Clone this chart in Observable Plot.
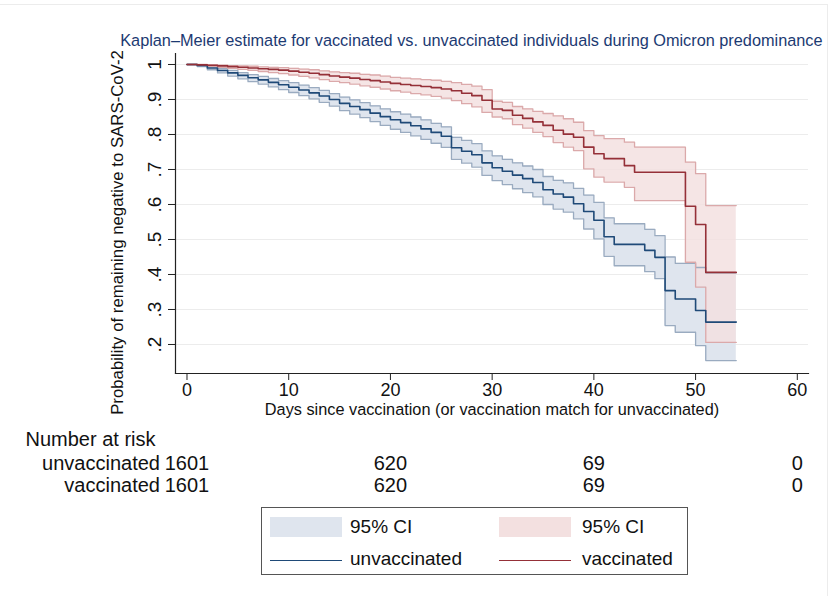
<!DOCTYPE html>
<html>
<head>
<meta charset="utf-8">
<script src="https://cdn.jsdelivr.net/npm/d3@7"></script>
<script src="https://cdn.jsdelivr.net/npm/@observablehq/plot@0.6"></script>
<style>
  html, body { margin: 0; padding: 0; background: #fff; }
  #wrap { position: relative; width: 833px; height: 596px; overflow: hidden; font-family: "Liberation Sans", Arial, sans-serif; }
  #wrap svg { position: absolute; left: 0; top: 0; }
  #edge { position: absolute; left: 0; top: 4px; width: 828px; height: 600px; border-top: 1px solid #ececec; border-right: 1px solid #ececec; box-sizing: border-box; }
  #legend { position: absolute; left: 261px; top: 507px; width: 427px; height: 68px; border: 1px solid #555; box-sizing: border-box; background: #fff; }
  .sw { position: absolute; width: 72px; height: 20px; }
  .ln { position: absolute; width: 72px; height: 0; border-top: 1.5px solid; }
  .lt { position: absolute; font-size: 19px; color: #111; line-height: 22px; white-space: nowrap; }
</style>
</head>
<body>
<div id="wrap"><div id="edge"></div></div>
<script>
// ---- data ----
const days = [0,1,2,3,4,5,6,7,8,9,10,11,12,13,14,15,16,17,18,19,20,21,22,23,24,25,26,27,28,29,30,31,32,33,34,35,36,37,38,39,40,41,42,43,44,45,46,47,48,49,50,51,52,53,54];

const unvacKM = [1.000,0.997,0.990,0.983,0.976,0.969,0.962,0.956,0.949,0.942,0.935,0.927,0.919,0.910,0.900,0.889,0.880,0.871,0.861,0.851,0.842,0.834,0.825,0.816,0.806,0.795,0.762,0.752,0.742,0.719,0.705,0.695,0.684,0.674,0.663,0.642,0.630,0.621,0.602,0.580,0.555,0.508,0.486,0.486,0.486,0.469,0.449,0.354,0.330,0.330,0.297,0.264,0.264,0.264,0.264];
const unvacLo = [1.000,0.994,0.985,0.976,0.967,0.959,0.951,0.944,0.936,0.928,0.920,0.911,0.902,0.892,0.881,0.868,0.858,0.848,0.837,0.826,0.815,0.806,0.796,0.786,0.775,0.763,0.729,0.718,0.707,0.683,0.668,0.657,0.645,0.634,0.622,0.600,0.587,0.578,0.559,0.530,0.502,0.452,0.425,0.425,0.425,0.408,0.388,0.254,0.235,0.235,0.197,0.154,0.154,0.154,0.154];
const unvacHi = [1.000,0.999,0.994,0.988,0.983,0.977,0.971,0.966,0.960,0.954,0.948,0.941,0.934,0.926,0.917,0.907,0.899,0.891,0.882,0.873,0.865,0.858,0.850,0.842,0.832,0.822,0.792,0.783,0.774,0.753,0.739,0.729,0.719,0.710,0.700,0.680,0.669,0.662,0.646,0.627,0.606,0.562,0.545,0.545,0.545,0.529,0.511,0.450,0.432,0.432,0.420,0.405,0.405,0.405,0.405];

const vacKM = [1.000,0.999,0.998,0.996,0.994,0.992,0.990,0.988,0.986,0.984,0.981,0.978,0.975,0.971,0.967,0.964,0.961,0.957,0.954,0.950,0.946,0.943,0.940,0.937,0.934,0.930,0.925,0.918,0.911,0.898,0.873,0.869,0.855,0.846,0.836,0.826,0.812,0.801,0.792,0.764,0.745,0.731,0.731,0.711,0.692,0.692,0.692,0.692,0.692,0.595,0.543,0.406,0.406,0.406,0.406];
const vacLo = [1.000,0.998,0.995,0.992,0.989,0.986,0.983,0.980,0.977,0.974,0.970,0.966,0.962,0.957,0.952,0.948,0.944,0.939,0.935,0.930,0.925,0.921,0.917,0.913,0.909,0.904,0.897,0.888,0.879,0.863,0.850,0.845,0.828,0.818,0.806,0.794,0.777,0.764,0.754,0.702,0.678,0.664,0.664,0.649,0.611,0.611,0.611,0.611,0.611,0.435,0.364,0.206,0.206,0.206,0.206];
const vacHi = [1.000,1.000,0.999,0.998,0.997,0.996,0.995,0.993,0.992,0.991,0.989,0.987,0.985,0.982,0.979,0.977,0.975,0.972,0.970,0.967,0.963,0.961,0.959,0.957,0.955,0.952,0.948,0.943,0.938,0.928,0.895,0.892,0.880,0.873,0.866,0.860,0.853,0.845,0.835,0.811,0.797,0.788,0.788,0.778,0.764,0.764,0.764,0.764,0.764,0.721,0.688,0.597,0.597,0.597,0.597];

const yTicks = [1,0.9,0.8,0.7,0.6,0.5,0.4,0.3,0.2];
const yTickLabels = ["1",".9",".8",".7",".6",".5",".4",".3",".2"];
const xTicks = [0,10,20,30,40,50,60];

const riskDays = [0,20,40,60];
const riskUnvac = [1601,620,69,0];
const riskVac = [1601,620,69,0];
const groups = ["unvaccinated","vaccinated"];

const titleText = "Kaplan\u2013Meier estimate for vaccinated vs. unvaccinated individuals during Omicron predominance";
const yTitle = "Probability of remaining negative to SARS-CoV-2";
const xTitle = "Days since vaccination (or vaccination match for unvaccinated)";
const riskTitle = "Number at risk";
const ciLabel = "95% CI";

// ---- styles ----
const C = {
  unvac: "#1f4a78", unvacFill: "#dfe5ee", unvacEdge: "#9aabc0",
  vac: "#953038", vacFill: "#f3e0e0", vacEdge: "#dba9aa",
  grid: "#ececec", ink: "#111"
};

const unvac = days.map((d,i)=>({d, km: unvacKM[i], lo: unvacLo[i], hi: unvacHi[i]}));
const vac = days.map((d,i)=>({d, km: vacKM[i], lo: vacLo[i], hi: vacHi[i]}));
const yt = yTicks.map((v,i)=>({v, label: yTickLabels[i]}));
const risk = riskDays.map((d,i)=>({d, u: String(riskUnvac[i]), v: String(riskVac[i])}));

const F = "Liberation Sans, Arial, sans-serif";

const plot = Plot.plot({
  width: 833, height: 596,
  marginTop: 53, marginBottom: 223, marginLeft: 175, marginRight: 25,
  x: {domain: [-1.13, 61.1]},
  y: {domain: [0.1171, 1.0314]},
  style: {fontFamily: F, background: "transparent", overflow: "visible"},
  marks: [
    Plot.gridY(yTicks, {stroke: C.grid, strokeOpacity: 1, strokeWidth: 1.2}),
    // CI bands
    Plot.areaY(unvac, {x: "d", y1: "lo", y2: "hi", curve: "step-after", fill: C.unvacFill, fillOpacity: 1}),
    Plot.areaY(vac, {x: "d", y1: "lo", y2: "hi", curve: "step-after", fill: C.vacFill, fillOpacity: 0.85}),
    Plot.line(unvac, {x: "d", y: "lo", curve: "step-after", stroke: C.unvacEdge, strokeWidth: 1.3}),
    Plot.line(unvac, {x: "d", y: "hi", curve: "step-after", stroke: C.unvacEdge, strokeWidth: 1.3}),
    Plot.line(vac, {x: "d", y: "lo", curve: "step-after", stroke: C.vacEdge, strokeWidth: 1.3}),
    Plot.line(vac, {x: "d", y: "hi", curve: "step-after", stroke: C.vacEdge, strokeWidth: 1.3}),
    // KM curves
    Plot.line(unvac, {x: "d", y: "km", curve: "step-after", stroke: C.unvac, strokeWidth: 1.6}),
    Plot.line(vac, {x: "d", y: "km", curve: "step-after", stroke: C.vac, strokeWidth: 1.6}),
    // axes
    Plot.frame({anchor: "left", stroke: "#222", strokeWidth: 1.2}),
    Plot.frame({anchor: "bottom", stroke: "#222", strokeWidth: 1.2}),
    Plot.axisY(yTicks, {tickSize: 7, tickFormat: () => "", stroke: "#222"}),
    Plot.text(yt, {y: "v", text: "label", frameAnchor: "left", textAnchor: "middle", dx: -21, rotate: -90, fontSize: 19, fill: C.ink}),
    Plot.axisX(xTicks, {tickSize: 7, tickPadding: 3, fontSize: 18, label: null, stroke: "#222", fill: C.ink}),
    // titles
    Plot.text([yTitle], {frameAnchor: "left", textAnchor: "middle", dx: -58, dy: 19, rotate: -90, fontSize: 16.8, fill: C.ink}),
    Plot.text([xTitle], {frameAnchor: "bottom", textAnchor: "middle", dy: 41, fontSize: 16.3, fill: C.ink}),
    Plot.text([titleText], {frameAnchor: "top-right", textAnchor: "end", dx: 14, dy: -19, fontSize: 16.3, fill: "#1c3a72"}),
    // number at risk
    Plot.text([riskTitle], {frameAnchor: "bottom-left", textAnchor: "start", dx: -150, dy: 72, fontSize: 20, fill: C.ink}),
    Plot.text([groups[0]], {x: riskDays[0], frameAnchor: "bottom", textAnchor: "end", dx: -27, dy: 96, fontSize: 20, fill: C.ink}),
    Plot.text([groups[1]], {x: riskDays[0], frameAnchor: "bottom", textAnchor: "end", dx: -27, dy: 118, fontSize: 20, fill: C.ink}),
    Plot.text(risk, {x: "d", text: "u", frameAnchor: "bottom", textAnchor: "middle", dy: 96, fontSize: 20, fill: C.ink}),
    Plot.text(risk, {x: "d", text: "v", frameAnchor: "bottom", textAnchor: "middle", dy: 118, fontSize: 20, fill: C.ink})
  ]
});

const wrap = document.getElementById("wrap");
wrap.appendChild(plot);

// legend (HTML)
const lg = document.createElement("div");
lg.id = "legend";
lg.innerHTML = `
  <div class="sw" style="left:8px;top:9px;background:${C.unvacFill}"></div>
  <div class="lt" style="left:88px;top:8px">${ciLabel}</div>
  <div class="ln" style="left:8px;top:52px;border-color:${C.unvac}"></div>
  <div class="lt" style="left:88px;top:40px">${groups[0]}</div>
  <div class="sw" style="left:237px;top:9px;background:${C.vacFill}"></div>
  <div class="lt" style="left:320px;top:8px">${ciLabel}</div>
  <div class="ln" style="left:237px;top:52px;border-color:${C.vac}"></div>
  <div class="lt" style="left:320px;top:40px">${groups[1]}</div>`;
wrap.appendChild(lg);
</script>
</body>
</html>
